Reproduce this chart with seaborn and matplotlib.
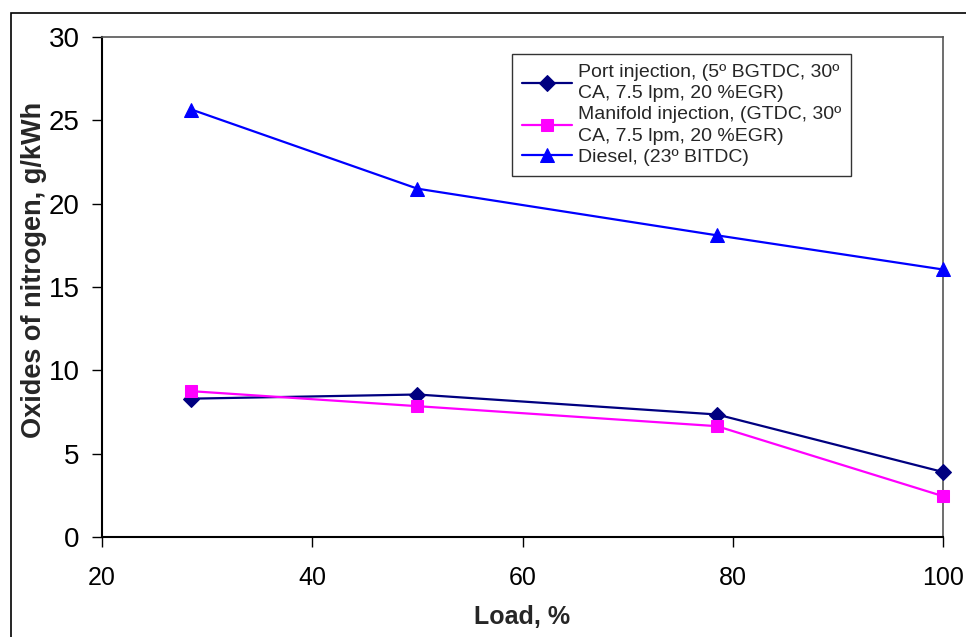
import matplotlib
matplotlib.use("Agg")
import matplotlib.pyplot as plt
import seaborn as sns
import pandas as pd

load = [28.5, 50, 78.5, 100]
port = [8.3, 8.55, 7.35, 3.9]
manifold = [8.75, 7.85, 6.65, 2.45]
diesel = [25.65, 20.9, 18.1, 16.05]

labels = ["Port injection, (5º BGTDC, 30º\nCA, 7.5 lpm, 20 %EGR)",
          "Manifold injection, (GTDC, 30º\nCA, 7.5 lpm, 20 %EGR)",
          "Diesel, (23º BITDC)"]
x_ticks = [20, 40, 60, 80, 100]
y_ticks = [0, 5, 10, 15, 20, 25, 30]

df = pd.DataFrame({
    "Load": load * 3,
    "NOx": port + manifold + diesel,
    "Series": [labels[0]] * 4 + [labels[1]] * 4 + [labels[2]] * 4,
})

sns.set_style("white")
plt.rcParams['font.family'] = ['Liberation Sans', 'DejaVu Sans']

fig = plt.figure(figsize=(9.66, 6.37), dpi=100)
ax = fig.add_axes([102/966, 1-537/637, (943-102)/966, (537-37)/637])

palette = {labels[0]: "#000080", labels[1]: "#FF00FF", labels[2]: "#0000FF"}
markers = {labels[0]: "D", labels[1]: "s", labels[2]: "^"}
sizes = {labels[0]: 8, labels[1]: 9, labels[2]: 10}

for lab in labels:
    sub = df[df["Series"] == lab]
    sns.lineplot(data=sub, x="Load", y="NOx", ax=ax, color=palette[lab],
                 marker=markers[lab], markersize=sizes[lab], markeredgecolor=palette[lab],
                 linewidth=1.6, label=lab, clip_on=False, zorder=3)

ax.set_xlim(20, 100)
ax.set_ylim(0, 30)
ax.set_xticks(x_ticks)
ax.set_yticks(y_ticks)
ax.tick_params(axis='both', bottom=True, left=True, direction='out', length=7, width=1,
               colors='black')
ax.tick_params(axis='x', pad=14, labelsize=18)
ax.tick_params(axis='y', pad=9, labelsize=20)
ax.set_xlabel("Load, %", fontsize=18, fontweight='bold')
ax.xaxis.set_label_coords(0.5, -(617 - 537) / 500)
ax.xaxis.label.set_va('center')
ax.set_ylabel("Oxides of nitrogen, g/kWh", fontsize=19.5, fontweight='bold')
ax.yaxis.set_label_coords(-0.065, 0.534)

for side in ['left', 'bottom']:
    ax.spines[side].set_color('black')
    ax.spines[side].set_linewidth(1.5)
for side in ['top', 'right']:
    ax.spines[side].set_color('#555555')
    ax.spines[side].set_linewidth(1.2)

leg = ax.legend(loc='upper left', bbox_to_anchor=((512-102)/(943-102), 1 - (54-37)/500),
                fontsize=14, frameon=True, fancybox=False, edgecolor='black',
                borderpad=0.5, labelspacing=0.2, handlelength=2.6, handletextpad=0.3,
                borderaxespad=0)
for t in leg.get_texts():
    t.set_linespacing(1.35)
leg.get_frame().set_linewidth(1)
leg.set_zorder(5)

# figure frame
fig.patches.append(plt.Rectangle((11/966, -0.1), 1.2, 1 - 13/637 + 0.1, transform=fig.transFigure,
                                 fill=False, edgecolor='black', linewidth=1.2))

fig.savefig("out.png", dpi=100)
